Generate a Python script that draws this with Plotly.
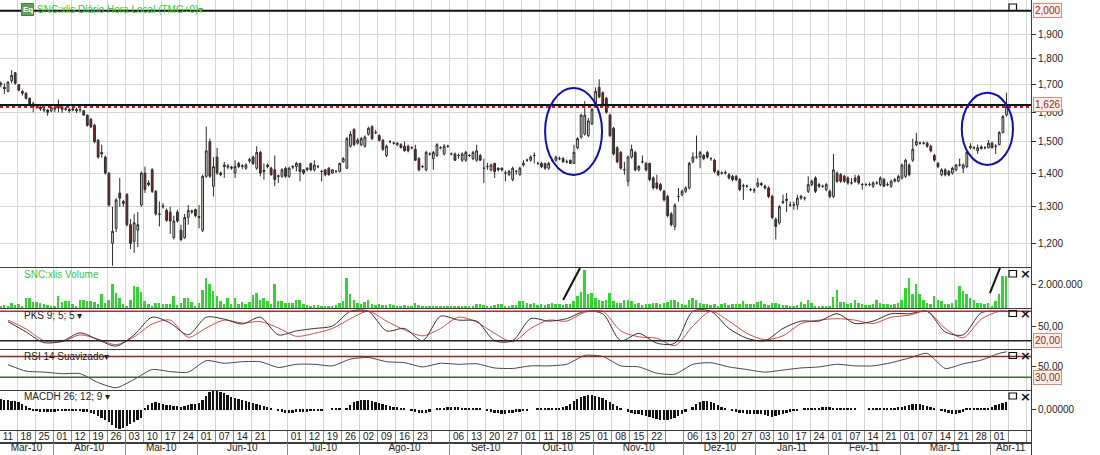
import math
import pandas as pd
import plotly.graph_objects as go

# ---------------- data ----------------
HOLIDAYS = ["2010-04-02", "2010-04-05"]
DATES = [d for d in pd.bdate_range("2010-03-09", "2011-04-06")
         if d.strftime("%Y-%m-%d") not in HOLIDAYS]

OPEN = [
    1.700, 1.690, 1.675, 1.715, 1.745, 1.700, 1.675, 1.668, 1.650, 1.630,
    1.620, 1.618, 1.612, 1.608, 1.605, 1.615, 1.615, 1.618, 1.610, 1.610,
    1.608, 1.610, 1.608, 1.605, 1.590, 1.575, 1.555, 1.505, 1.465, 1.450,
    1.400, 1.200, 1.240, 1.340, 1.315, 1.335, 1.250, 1.205, 1.235, 1.305,
    1.400, 1.370, 1.410, 1.345, 1.280, 1.300, 1.290, 1.285, 1.215, 1.285,
    1.235, 1.215, 1.270, 1.285, 1.292, 1.270, 1.235, 1.390, 1.500, 1.360,
    1.450, 1.400, 1.420, 1.418, 1.415, 1.400, 1.430, 1.420, 1.415, 1.438,
    1.450, 1.415, 1.465, 1.408, 1.420, 1.415, 1.410, 1.392, 1.390, 1.415,
    1.390, 1.418, 1.420, 1.430, 1.410, 1.410, 1.430, 1.410, 1.420, 1.405,
    1.410, 1.415, 1.400, 1.405, 1.405, 1.435, 1.415, 1.485, 1.540, 1.495,
    1.490, 1.485, 1.525, 1.550, 1.530, 1.520, 1.505, 1.455, 1.500, 1.495,
    1.490, 1.490, 1.485, 1.485, 1.480, 1.475, 1.445, 1.420, 1.410, 1.460,
    1.445, 1.455, 1.480, 1.460, 1.485, 1.460, 1.460, 1.455, 1.440, 1.440,
    1.455, 1.445, 1.440, 1.455, 1.415, 1.420, 1.410, 1.430, 1.415, 1.415,
    1.400, 1.395, 1.380, 1.405, 1.395, 1.425, 1.440, 1.440, 1.455, 1.430,
    1.430, 1.430, 1.415, 1.440, 1.440, 1.445, 1.445, 1.435, 1.440, 1.430,
    1.480, 1.515, 1.525, 1.520, 1.560, 1.620, 1.690, 1.670, 1.650, 1.590,
    1.545, 1.480, 1.465, 1.410, 1.375, 1.450, 1.465, 1.410, 1.435, 1.430,
    1.430, 1.385, 1.370, 1.365, 1.345, 1.330, 1.280, 1.245, 1.330, 1.335,
    1.345, 1.355, 1.435, 1.450, 1.450, 1.455, 1.465, 1.445, 1.440, 1.405,
    1.400, 1.400, 1.395, 1.390, 1.390, 1.380, 1.360, 1.360, 1.350, 1.348,
    1.360, 1.368, 1.360, 1.355, 1.330, 1.265, 1.255, 1.312, 1.318, 1.305,
    1.305, 1.305, 1.325, 1.325, 1.345, 1.365, 1.385, 1.365, 1.360, 1.350,
    1.345, 1.330, 1.400, 1.395, 1.390, 1.385, 1.370, 1.385, 1.390, 1.365,
    1.365, 1.365, 1.360, 1.370, 1.365, 1.380, 1.365, 1.360, 1.375, 1.375,
    1.385, 1.390, 1.425, 1.440, 1.490, 1.495, 1.495, 1.495, 1.485, 1.455,
    1.430, 1.395, 1.410, 1.405, 1.400, 1.410, 1.425, 1.415, 1.420, 1.480,
    1.480, 1.470, 1.483, 1.480, 1.480, 1.495, 1.485, 1.490, 1.530, 1.590,
]
HIGH = [
    1.712, 1.705, 1.712, 1.755, 1.748, 1.702, 1.680, 1.672, 1.652, 1.638,
    1.625, 1.622, 1.618, 1.612, 1.620, 1.628, 1.645, 1.622, 1.618, 1.615,
    1.618, 1.616, 1.615, 1.608, 1.592, 1.580, 1.560, 1.508, 1.490, 1.455,
    1.402, 1.300, 1.325, 1.385, 1.320, 1.340, 1.265, 1.280, 1.285, 1.405,
    1.420, 1.378, 1.415, 1.348, 1.315, 1.310, 1.295, 1.300, 1.275, 1.292,
    1.250, 1.280, 1.305, 1.292, 1.295, 1.305, 1.395, 1.550, 1.510, 1.450,
    1.480, 1.405, 1.435, 1.428, 1.422, 1.440, 1.435, 1.428, 1.430, 1.448,
    1.455, 1.485, 1.470, 1.430, 1.430, 1.420, 1.455, 1.395, 1.415, 1.420,
    1.420, 1.425, 1.435, 1.432, 1.412, 1.418, 1.432, 1.440, 1.425, 1.410,
    1.412, 1.418, 1.412, 1.410, 1.432, 1.450, 1.515, 1.535, 1.545, 1.512,
    1.515, 1.520, 1.550, 1.555, 1.540, 1.525, 1.508, 1.490, 1.505, 1.500,
    1.498, 1.495, 1.500, 1.490, 1.485, 1.490, 1.450, 1.425, 1.470, 1.465,
    1.470, 1.495, 1.485, 1.492, 1.490, 1.465, 1.465, 1.462, 1.465, 1.470,
    1.460, 1.470, 1.490, 1.460, 1.445, 1.432, 1.430, 1.432, 1.418, 1.418,
    1.408, 1.410, 1.420, 1.410, 1.420, 1.440, 1.445, 1.455, 1.465, 1.435,
    1.435, 1.432, 1.435, 1.445, 1.455, 1.452, 1.450, 1.442, 1.442, 1.490,
    1.515, 1.595, 1.640, 1.580, 1.615, 1.690, 1.720, 1.675, 1.655, 1.595,
    1.550, 1.485, 1.470, 1.435, 1.455, 1.490, 1.470, 1.425, 1.455, 1.435,
    1.432, 1.390, 1.395, 1.370, 1.350, 1.335, 1.285, 1.310, 1.355, 1.350,
    1.360, 1.435, 1.465, 1.520, 1.470, 1.460, 1.470, 1.450, 1.445, 1.410,
    1.405, 1.408, 1.400, 1.395, 1.395, 1.385, 1.368, 1.365, 1.355, 1.355,
    1.385, 1.372, 1.365, 1.360, 1.335, 1.270, 1.305, 1.335, 1.340, 1.315,
    1.315, 1.335, 1.335, 1.330, 1.390, 1.380, 1.390, 1.370, 1.365, 1.370,
    1.350, 1.460, 1.405, 1.400, 1.395, 1.390, 1.385, 1.395, 1.395, 1.370,
    1.370, 1.372, 1.375, 1.375, 1.390, 1.385, 1.372, 1.380, 1.385, 1.395,
    1.430, 1.445, 1.430, 1.510, 1.530, 1.500, 1.500, 1.500, 1.490, 1.460,
    1.435, 1.415, 1.415, 1.410, 1.420, 1.428, 1.445, 1.430, 1.470, 1.495,
    1.485, 1.490, 1.488, 1.485, 1.505, 1.500, 1.492, 1.535, 1.590, 1.670,
]
LOW = [
    1.690, 1.665, 1.672, 1.705, 1.700, 1.675, 1.660, 1.645, 1.622, 1.600,
    1.612, 1.605, 1.600, 1.588, 1.600, 1.600, 1.600, 1.598, 1.605, 1.598,
    1.603, 1.598, 1.600, 1.588, 1.550, 1.545, 1.495, 1.445, 1.448, 1.395,
    1.300, 1.142, 1.230, 1.300, 1.300, 1.245, 1.185, 1.175, 1.190, 1.300,
    1.340, 1.360, 1.340, 1.275, 1.245, 1.295, 1.258, 1.225, 1.210, 1.255,
    1.205, 1.212, 1.250, 1.280, 1.270, 1.240, 1.230, 1.385, 1.385, 1.330,
    1.395, 1.390, 1.385, 1.412, 1.410, 1.385, 1.415, 1.412, 1.410, 1.432,
    1.425, 1.410, 1.390, 1.380, 1.415, 1.392, 1.360, 1.370, 1.385, 1.385,
    1.385, 1.412, 1.405, 1.375, 1.395, 1.405, 1.405, 1.405, 1.415, 1.375,
    1.390, 1.392, 1.398, 1.400, 1.402, 1.432, 1.412, 1.480, 1.485, 1.490,
    1.485, 1.480, 1.520, 1.505, 1.525, 1.500, 1.470, 1.450, 1.495, 1.490,
    1.485, 1.478, 1.468, 1.465, 1.475, 1.438, 1.405, 1.415, 1.405, 1.455,
    1.410, 1.450, 1.475, 1.455, 1.480, 1.455, 1.438, 1.445, 1.435, 1.435,
    1.450, 1.440, 1.435, 1.438, 1.370, 1.410, 1.405, 1.385, 1.405, 1.405,
    1.375, 1.390, 1.375, 1.395, 1.392, 1.420, 1.435, 1.435, 1.430, 1.425,
    1.415, 1.410, 1.410, 1.435, 1.435, 1.440, 1.432, 1.430, 1.428, 1.428,
    1.475, 1.510, 1.520, 1.515, 1.555, 1.615, 1.650, 1.620, 1.595, 1.515,
    1.455, 1.430, 1.410, 1.395, 1.360, 1.445, 1.405, 1.405, 1.430, 1.405,
    1.375, 1.350, 1.350, 1.345, 1.315, 1.270, 1.245, 1.235, 1.315, 1.330,
    1.340, 1.350, 1.430, 1.445, 1.415, 1.440, 1.445, 1.438, 1.400, 1.390,
    1.395, 1.395, 1.380, 1.375, 1.375, 1.345, 1.320, 1.355, 1.345, 1.340,
    1.355, 1.360, 1.350, 1.325, 1.265, 1.210, 1.250, 1.308, 1.285, 1.300,
    1.292, 1.292, 1.320, 1.318, 1.340, 1.360, 1.340, 1.355, 1.355, 1.345,
    1.325, 1.325, 1.370, 1.370, 1.370, 1.365, 1.365, 1.370, 1.365, 1.350,
    1.360, 1.360, 1.355, 1.365, 1.360, 1.358, 1.360, 1.355, 1.372, 1.372,
    1.380, 1.385, 1.390, 1.435, 1.485, 1.490, 1.490, 1.480, 1.465, 1.435,
    1.415, 1.390, 1.390, 1.390, 1.395, 1.405, 1.420, 1.400, 1.415, 1.475,
    1.475, 1.460, 1.475, 1.475, 1.478, 1.478, 1.460, 1.488, 1.528, 1.585,
]
CLOSE = [
    1.705, 1.685, 1.710, 1.735, 1.705, 1.680, 1.668, 1.650, 1.628, 1.620,
    1.618, 1.612, 1.608, 1.600, 1.618, 1.612, 1.620, 1.610, 1.612, 1.605,
    1.612, 1.605, 1.610, 1.590, 1.555, 1.550, 1.500, 1.450, 1.460, 1.400,
    1.305, 1.232, 1.320, 1.325, 1.310, 1.250, 1.200, 1.255, 1.250, 1.400,
    1.350, 1.365, 1.345, 1.280, 1.278, 1.302, 1.262, 1.260, 1.260, 1.260,
    1.210, 1.270, 1.290, 1.288, 1.275, 1.272, 1.390, 1.470, 1.390, 1.420,
    1.400, 1.395, 1.425, 1.422, 1.418, 1.420, 1.420, 1.422, 1.425, 1.442,
    1.430, 1.465, 1.400, 1.405, 1.425, 1.395, 1.380, 1.390, 1.410, 1.390,
    1.415, 1.420, 1.430, 1.405, 1.400, 1.415, 1.410, 1.425, 1.420, 1.405,
    1.395, 1.395, 1.410, 1.405, 1.430, 1.445, 1.510, 1.525, 1.490, 1.505,
    1.510, 1.515, 1.545, 1.510, 1.530, 1.505, 1.475, 1.485, 1.500, 1.495,
    1.495, 1.480, 1.470, 1.470, 1.480, 1.440, 1.410, 1.420, 1.465, 1.460,
    1.465, 1.490, 1.480, 1.485, 1.485, 1.460, 1.440, 1.455, 1.460, 1.465,
    1.455, 1.465, 1.470, 1.440, 1.415, 1.420, 1.425, 1.405, 1.410, 1.410,
    1.400, 1.405, 1.415, 1.405, 1.415, 1.430, 1.440, 1.450, 1.455, 1.430,
    1.420, 1.415, 1.430, 1.440, 1.450, 1.445, 1.435, 1.435, 1.430, 1.465,
    1.510, 1.590, 1.590, 1.570, 1.610, 1.675, 1.655, 1.626, 1.600, 1.520,
    1.460, 1.435, 1.415, 1.410, 1.450, 1.475, 1.410, 1.420, 1.435, 1.410,
    1.380, 1.355, 1.355, 1.350, 1.320, 1.275, 1.250, 1.305, 1.330, 1.345,
    1.355, 1.430, 1.450, 1.450, 1.465, 1.445, 1.450, 1.445, 1.405, 1.395,
    1.400, 1.402, 1.385, 1.380, 1.380, 1.350, 1.362, 1.360, 1.350, 1.348,
    1.370, 1.365, 1.355, 1.330, 1.270, 1.245, 1.300, 1.315, 1.322, 1.305,
    1.305, 1.325, 1.330, 1.325, 1.365, 1.375, 1.345, 1.360, 1.360, 1.365,
    1.330, 1.410, 1.375, 1.375, 1.375, 1.370, 1.370, 1.375, 1.370, 1.365,
    1.365, 1.365, 1.370, 1.370, 1.385, 1.360, 1.365, 1.375, 1.380, 1.390,
    1.425, 1.440, 1.395, 1.475, 1.500, 1.495, 1.495, 1.485, 1.470, 1.440,
    1.420, 1.410, 1.395, 1.395, 1.415, 1.425, 1.425, 1.425, 1.465, 1.485,
    1.480, 1.480, 1.477, 1.480, 1.495, 1.480, 1.485, 1.530, 1.585, 1.620,
]
VOLUME_K = [
    150, 230, 120, 430, 230, 290, 200, 870, 870, 520,
    520, 430, 290, 230, 140, 100, 1000, 520, 580, 580,
    290, 150, 720, 640, 580, 580, 520, 350, 1220, 430,
    640, 2030, 1300, 810, 290, 140, 640, 1880, 1800, 1390,
    580, 290, 140, 430, 430, 290, 290, 290, 1010, 230,
    430, 810, 810, 520, 200, 430, 1590, 2550, 2090, 1450,
    1010, 580, 290, 870, 350, 870, 350, 520, 290, 520,
    1100, 1300, 720, 810, 580, 290, 2090, 580, 580, 430,
    430, 430, 640, 720, 290, 230, 140, 230, 230, 140,
    140, 90, 90, 230, 430, 580, 2550, 1160, 720, 430,
    350, 520, 640, 350, 230, 290, 230, 230, 290, 230,
    90, 140, 230, 140, 90, 430, 230, 140, 140, 140,
    140, 140, 90, 90, 90, 140, 90, 90, 90, 90,
    90, 90, 350, 290, 230, 140, 90, 230, 350, 350,
    140, 90, 230, 230, 580, 580, 430, 350, 430, 230,
    290, 230, 350, 430, 290, 350, 230, 290, 350, 580,
    1010, 1390, 3330, 1160, 1300, 870, 720, 580, 720, 1300,
    580, 430, 430, 720, 720, 580, 290, 430, 230, 290,
    350, 430, 430, 350, 430, 520, 640, 640, 520, 290,
    230, 640, 810, 720, 430, 290, 290, 230, 290, 140,
    290, 430, 230, 290, 290, 350, 580, 350, 290, 290,
    520, 580, 290, 230, 430, 430, 290, 230, 230, 90,
    140, 230, 520, 290, 720, 430, 140, 140, 140, 140,
    140, 930, 1590, 520, 520, 290, 430, 720, 430, 290,
    230, 230, 290, 640, 430, 290, 290, 230, 290, 430,
    720, 1740, 2610, 1160, 2030, 1160, 720, 430, 290, 1010,
    720, 580, 350, 290, 430, 720, 1880, 1450, 1160, 870,
    720, 430, 430, 350, 430, 140, 580, 1160, 2750, 2750,
]
MACDH_MILLI = [
    11, 10, 10, 9, 9, 8,
    6, 4, 2,
    -1, -1, -2, -2, -2, -2, -2, -1, -1, -1, -1, -1, -1, -1, -2, -2, -3,
    -4, -6, -8, -10, -12, -15, -18, -19, -18, -16, -14, -12, -10, -8,
    2, 5, 7, 8, 7, 6, 5, 5, 4, 4, 3, 4, 5, 6, 6, 7,
    10, 14, 18, 19, 19, 18, 17, 15, 13, 12, 11, 10, 9, 8, 7, 6,
    5, 4, 3, 2, 0, -1, -2, -3, -3, -3, -2, -2,
    -2, -2, -1, -1, -1, -1, 0, 0, 1, 1, 1, 0, 2,
    5, 8, 9, 10, 10, 10, 9, 8, 7, 6, 5, 4, 3, 3, 2,
    1, 0, -1, -2, -3, -3, -3, -2,
    0, 1, 2, 2, 3, 3, 3, 3, 2, 2, 2, 1, 1, 1,
    0, -1, -2, -3, -3, -4, -4, -3, -3, -2, -2, -1, -1, 0,
    0, 1, 1, 1, 2, 2, 2, 2,
    3, 4, 6, 9, 11, 13, 14, 15, 15, 14, 13,
    12, 10, 8, 6, 4, 2, 0, -2, -3, -4, -4,
    -5, -6, -7, -8, -9, -10, -10, -10, -9, -8, -6, -4, -2, 0,
    3, 6, 8, 9, 9, 8, 7, 5,
    3, 1, 0, -1, -2, -3, -3, -4, -4, -4, -4, -4,
    -5, -6, -7, -6, -5, -4, -3, -2, -1, -1,
    0, 1, 1, 2, 2, 2, 3, 3, 3, 2, 2, 2, 1, 1, 1, 1, 0, 0, 0, 1, 1, 1, 1, 1, 2, 2, 2, 3,
    3, 4, 5, 6, 6, 6, 5, 4, 3,
    2, 0, -1, -2, -3, -4, -4, -3,
    -2, 1, 1, 1, 2, 2, 2, 2, 3,
    5, 6, 7, 8,
]
# oscillators read every 5th bar (bar 2, 7, 12, ...) plus the last bar
PKS_K = [59, 38, 16, 19, 36, 22, 9, 32, 68, 56, 32, 68, 64, 54, 68, 32, 40,
         45, 50, 80, 80, 40, 45, 20, 70, 62, 60, 20, 20, 65, 60, 65, 80, 75, 20,
         35, 15, 15, 80, 80, 45, 25, 20, 45, 60, 60, 75, 55, 60, 75, 75, 80, 38,
         32, 77, 80, 80]
PKS_D = [62, 44, 20, 18, 32, 23, 12, 28, 54, 62, 27, 46, 62, 56, 59, 46, 29,
         35, 45, 65, 80, 60, 42, 30, 45, 68, 58, 35, 18, 45, 62, 60, 78, 80, 40,
         28, 25, 10, 50, 80, 60, 35, 22, 30, 55, 62, 65, 62, 55, 68, 72, 80, 45,
         26, 64, 80, 80]
RSI = [54, 42, 40, 37, 37, 20, 10, 26, 45, 41, 40, 62, 57, 60, 60, 49, 55,
       55, 52, 65, 68, 60, 58, 50, 57, 55, 56, 48, 47, 52, 52, 55, 72, 70, 52,
       50, 38, 36, 55, 58, 50, 45, 40, 44, 48, 50, 55, 52, 52, 58, 67, 76, 47,
       56, 63, 76, 79]

DAY_LABELS = ["11", "18", "25", "01", "12", "19", "26", "03", "10", "17", "24",
              "01", "07", "14", "21", "", "01", "12", "19", "26", "02", "09",
              "16", "23", "", "06", "13", "20", "27", "01", "11", "18", "25",
              "01", "08", "15", "22", "", "06", "13", "20", "27", "03", "10",
              "17", "24", "01", "07", "14", "21", "01", "07", "14", "21", "28",
              "01", ""]
MONTH_LABELS = ["Mar-10", "Abr-10", "Mai-10", "Jun-10", "Jul-10", "Ago-10",
                "Set-10", "Out-10", "Nov-10", "Dez-10", "Jan-11", "Fev-11",
                "Mar-11", "Abr-11"]

LEVELS = [2.0, 1.626]
PKS_BANDS = [80, 20]
RSI_BANDS = [70, 30]
ELLIPSES = [(151.0, 166.8, 1.394, 1.688), (266.6, 280.8, 1.425, 1.670)]
SLASHES = [(156.0, 630000, 160.7, 3420000), (274.4, 1240000, 277.2, 3420000)]

# ---------------- derived ----------------
N = len(CLOSE)
BARS = list(range(N))
SAMPLE_BARS = list(range(2, N, 5)) + [N - 1]
VOLUME = [v * 1000 for v in VOLUME_K]
MACDH = [v / 1000 for v in MACDH_MILLI]

X_RANGE = [-0.22, 285.8]
CELL_CENTERS = [5 * k + 2 for k in range(len(DAY_LABELS))]
MONTH_START_BARS = [i for i in range(1, N) if DATES[i].month != DATES[i - 1].month]
MONTH_EDGES = [5 * ((b + 1) // 5) - 0.5 for b in MONTH_START_BARS]
_edges = [X_RANGE[0]] + MONTH_EDGES + [X_RANGE[1]]
MONTH_MID = [(_edges[i] + _edges[i + 1]) / 2 for i in range(len(_edges) - 1)]

# ---------------- geometry ----------------
W, H = 1100, 455
XR = 1031 / W


def fy(px):
    return 1 - px / H


def fx(px):
    return px / W


PANELS = {
    "price": (0, 266.5), "vol": (267.5, 308), "pks": (309, 349),
    "rsi": (350, 389.5), "macd": (390.5, 430), "day": (431, 443),
    "month": (443, 454.5),
}


def dom(name):
    t, b = PANELS[name]
    return [fy(b), fy(t)]


FONT = "Liberation Sans, Arial, sans-serif"
GRID = "#d6d6d6"
LINE = "#3c3c3c"

fig = go.Figure()

fig.add_trace(go.Candlestick(
    x=BARS, open=OPEN, high=HIGH, low=LOW, close=CLOSE,
    increasing=dict(line=dict(color="#2b2b2b", width=1), fillcolor="#dce8dc"),
    decreasing=dict(line=dict(color="#2b2b2b", width=1), fillcolor="#8c2424"),
    whiskerwidth=0, xaxis="x", yaxis="y", hoverinfo="skip"))

fig.add_trace(go.Bar(x=BARS, y=VOLUME, width=0.55,
                     marker=dict(color="#35d435", line=dict(width=0)),
                     xaxis="x2", yaxis="y2", hoverinfo="skip"))

fig.add_trace(go.Scatter(x=SAMPLE_BARS, y=PKS_D, mode="lines",
                         line=dict(color="#d24a4a", width=1, shape="spline", smoothing=0.8),
                         xaxis="x3", yaxis="y3", hoverinfo="skip"))
fig.add_trace(go.Scatter(x=SAMPLE_BARS, y=PKS_K, mode="lines",
                         line=dict(color="#333333", width=1, shape="spline", smoothing=0.8),
                         xaxis="x3", yaxis="y3", hoverinfo="skip"))

fig.add_trace(go.Scatter(x=SAMPLE_BARS, y=RSI, mode="lines",
                         line=dict(color="#444444", width=1, shape="spline", smoothing=0.6),
                         xaxis="x4", yaxis="y4", hoverinfo="skip"))

fig.add_trace(go.Bar(x=BARS, y=MACDH, width=0.5,
                     marker=dict(color="#111111", line=dict(width=0)),
                     xaxis="x5", yaxis="y5", hoverinfo="skip"))

fig.add_trace(go.Scatter(x=CELL_CENTERS, y=[0.5] * len(CELL_CENTERS), text=DAY_LABELS,
                         mode="text", textfont=dict(size=10, color="#222", family=FONT),
                         xaxis="x6", yaxis="y6", hoverinfo="skip"))
fig.add_trace(go.Scatter(x=MONTH_MID, y=[0.5] * len(MONTH_MID), text=MONTH_LABELS,
                         mode="text", textfont=dict(size=10, color="#222", family=FONT),
                         xaxis="x7", yaxis="y7", hoverinfo="skip"))


def xax(name, anchor, grid=GRID, **kw):
    d = dict(domain=[0, XR], range=X_RANGE, showgrid=True, gridcolor=grid, gridwidth=1,
             tickmode="linear", tick0=4.5, dtick=5, showticklabels=False, ticks="",
             zeroline=False, showline=True, mirror=True, linecolor=LINE, linewidth=1,
             anchor=anchor, fixedrange=True)
    d.update(kw)
    return d


def yax(name, **kw):
    d = dict(domain=dom(name), side="right", showgrid=False, zeroline=False,
             showline=True, mirror=True, linecolor=LINE, linewidth=1,
             ticks="outside", ticklen=4, tickcolor="#333",
             tickfont=dict(size=10, color="#222", family=FONT), fixedrange=True)
    d.update(kw)
    return d


shapes = []
annotations = []

# horizontal levels on price
for lv in LEVELS:
    shapes.append(dict(type="line", xref="x domain", yref="y", x0=0, x1=1, y0=lv, y1=lv,
                       line=dict(color="#111", width=2)))
shapes.append(dict(type="line", xref="x domain", yref="y", x0=0, x1=1,
                   y0=LEVELS[1] * 0.9955, y1=LEVELS[1] * 0.9955,
                   line=dict(color="#d01818", width=2, dash="dot")))
for x0, x1, y0, y1 in ELLIPSES:
    shapes.append(dict(type="circle", xref="x", yref="y", x0=x0, x1=x1, y0=y0, y1=y1,
                       line=dict(color="#1010b0", width=2)))
for x0, y0, x1, y1 in SLASHES:
    shapes.append(dict(type="line", xref="x2", yref="y2", x0=x0, y0=y0, x1=x1, y1=y1,
                       line=dict(color="#111", width=2)))
shapes.append(dict(type="line", xref="x3 domain", yref="y3", x0=0, x1=1,
                   y0=PKS_BANDS[0], y1=PKS_BANDS[0], line=dict(color="#b03030", width=1.5)))
shapes.append(dict(type="line", xref="x3 domain", yref="y3", x0=0, x1=1,
                   y0=PKS_BANDS[1], y1=PKS_BANDS[1], line=dict(color="#222", width=1.5)))
shapes.append(dict(type="line", xref="x4 domain", yref="y4", x0=0, x1=1,
                   y0=RSI_BANDS[0], y1=RSI_BANDS[0], line=dict(color="#9a2020", width=1.5)))
shapes.append(dict(type="line", xref="x4 domain", yref="y4", x0=0, x1=1,
                   y0=RSI_BANDS[1], y1=RSI_BANDS[1], line=dict(color="#2f6e2f", width=1.5)))

# window icons
for (t, b, with_x) in [(4, 10.5, False), (270.5, 277, True), (310.5, 316.5, True),
                       (352.5, 358.5, True), (393, 399, True)]:
    shapes.append(dict(type="rect", xref="paper", yref="paper", x0=fx(1009), x1=fx(1016.5),
                       y0=fy(b), y1=fy(t), line=dict(color="#111", width=1.2)))
    if with_x:
        annotations.append(dict(x=fx(1025), y=fy((t + b) / 2), xref="paper", yref="paper",
                                text="<b>×</b>", showarrow=False,
                                xanchor="center", yanchor="middle",
                                font=dict(size=13, color="#111", family="DejaVu Sans")))

# Eq badge + titles
shapes.append(dict(type="rect", xref="paper", yref="paper", x0=fx(21.5), x1=fx(33.5),
                   y0=fy(15.5), y1=fy(3.5), fillcolor="#5f9f5f", line=dict(color="#3f7f3f", width=1)))
annotations.append(dict(x=fx(27.5), y=fy(9.5), xref="paper", yref="paper", text="<b>Eq</b>",
                        showarrow=False, xanchor="center", yanchor="middle",
                        font=dict(size=8, color="white", family=FONT)))


def label(text, x, y, color):
    annotations.append(dict(x=fx(x), y=fy(y), xref="paper", yref="paper", text=text,
                            showarrow=False, xanchor="left", yanchor="middle",
                            font=dict(size=10, color=color, family=FONT)))


label("SNC:xlis Diário Hora Local (TMG+0)▾", 35, 9.5, "#3cc83c")
label("SNC:xlis Volume", 22, 274, "#3cc83c")
label("PKS 9; 5; 5 ▾", 22, 315.5, "#222")
label("RSI 14 Suavizado▾", 22, 356, "#222")
label("MACDH 26; 12; 9 ▾", 22, 396.5, "#222")


def boxed(text, yref, yval):
    annotations.append(dict(x=fx(1033), y=yval, xref="paper", yref=yref, text=text,
                            showarrow=False, xanchor="left", yanchor="middle",
                            bgcolor="#fcefe9", bordercolor="#d88c7c", borderwidth=1, borderpad=1,
                            font=dict(size=10, color="#8e2c1c", family=FONT)))


boxed("2,000", "y", math.log10(LEVELS[0]))
boxed("1,626", "y", math.log10(LEVELS[1]))
boxed("20,00", "y3", PKS_BANDS[1])
boxed("30,00", "y4", RSI_BANDS[1])

fig.update_layout(
    width=W, height=H, margin=dict(l=0, r=0, t=0, b=0),
    paper_bgcolor="white", plot_bgcolor="white", showlegend=False,
    separators=",.", font=dict(family=FONT, size=10, color="#222"),
    bargap=0, shapes=shapes, annotations=annotations,
    xaxis=xax("price", "y", rangeslider=dict(visible=False)),
    xaxis2=xax("vol", "y2"),
    xaxis3=xax("pks", "y3"),
    xaxis4=xax("rsi", "y4"),
    xaxis5=xax("macd", "y5"),
    xaxis6=xax("day", "y6", grid="#8a8a8a"),
    xaxis7=xax("month", "y7", grid="#8a8a8a", tickmode="array", tickvals=MONTH_EDGES),
    yaxis=yax("price", type="log", range=[0.0570, 0.3112],
              tickvals=[1.2, 1.3, 1.4, 1.5, 1.6, 1.7, 1.8, 1.9], tickformat=".3f",
              showgrid=True, gridcolor=GRID, anchor="x"),
    yaxis2=yax("vol", range=[-60000, 3460000], tickvals=[2000000], tickformat=",d", anchor="x2"),
    yaxis3=yax("pks", range=[3.1, 84.7], tickvals=[50], tickformat=".2f", anchor="x3"),
    yaxis4=yax("rsi", range=[6.7, 82.4], tickvals=[50], tickformat=".2f", anchor="x4"),
    yaxis5=yax("macd", range=[-0.021, 0.019], tickvals=[0], tickformat=".5f", anchor="x5"),
    yaxis6=yax("day", range=[0, 1], showticklabels=False, ticks="", anchor="x6"),
    yaxis7=yax("month", range=[0, 1], showticklabels=False, ticks="", anchor="x7"),
)

fig.write_html("out.html", config={"displayModeBar": False},
               post_script="document.body.style.margin='0';document.body.style.padding='0';")
